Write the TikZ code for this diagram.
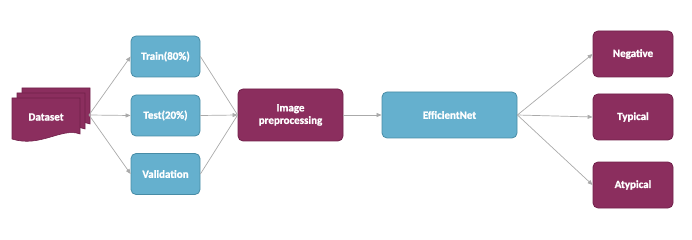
\documentclass[tikz,border=0pt]{standalone}
\usepackage{fontspec}
\setmainfont{Carlito}[FakeBold=1.3]
\usetikzlibrary{arrows.meta}
\definecolor{plum}{RGB}{139,46,94}
\definecolor{plumline}{RGB}{112,32,74}
\definecolor{sky}{RGB}{101,176,206}
\definecolor{skyline}{RGB}{72,140,166}
\definecolor{wire}{RGB}{170,170,170}
\tikzset{
  box/.style={rounded corners=5pt, line width=0.8pt, text=white,
    font=\fontsize{11}{12.5}\selectfont\bfseries, align=center, inner sep=0pt},
  bluebox/.style={box, fill=sky, draw=skyline},
  plumbox/.style={box, fill=plum, draw=plumline},
  page/.style={fill=plum, draw=plumline, line width=0.6pt},
  link/.style={draw=wire, line width=0.7pt, -{Triangle[length=5pt,width=4pt]}},
  plain/.style={draw=wire, line width=0.7pt}
}
\begin{document}
\begin{tikzpicture}[x=1pt,y=-1pt]
\useasboundingbox (0,0) rectangle (692,240);

% stacked document pages
\foreach \dx/\dy in {10/-10,5/-5,0/0}{
  \path[page] (12+\dx,98+\dy) -- (80+\dx,98+\dy) -- (80+\dx,134+\dy)
    .. controls (62+\dx,127+\dy) and (40+\dx,148+\dy) .. (12+\dx,139+\dy) -- cycle;
}
\node[box, minimum width=68pt, minimum height=36pt] (ds) at (46,117) {Dataset};
\coordinate (dsout) at (89,115);

% splits
\node[bluebox, minimum width=69pt, minimum height=41pt] (train) at (165.5,56.5) {Train(80\%)};
\node[bluebox, minimum width=69pt, minimum height=41pt] (test) at (165.5,115.5) {Test(20\%)};
\node[bluebox, minimum width=69pt, minimum height=41pt] (val) at (165.5,174) {Validation};

% pipeline
\node[plumbox, minimum width=105pt, minimum height=52pt] (prep) at (290.5,115) {Image\\preprocessing};
\node[bluebox, minimum width=135pt, minimum height=46pt] (net) at (449.5,115) {EfficientNet};

% classes
\node[plumbox, minimum width=80pt, minimum height=46pt] (neg) at (633,54) {Negative};
\node[plumbox, minimum width=80pt, minimum height=46pt] (typ) at (633,117) {Typical};
\node[plumbox, minimum width=80pt, minimum height=46pt] (aty) at (633,185) {Atypical};

% connectors
\draw[link] (dsout) -- (train.west);
\draw[link] (dsout) -- (test.west);
\draw[link] (dsout) -- (val.west);
\draw[plain] (train.east) -- (prep.west);
\draw[plain] (val.east) -- (prep.west);
\draw[link] (test.east) -- (prep.west);
\draw[link] (prep.east) -- (net.west);
\draw[link] (net.east) -- (neg.west);
\draw[link] (net.east) -- (typ.west);
\draw[link] (net.east) -- (aty.west);
\end{tikzpicture}
\end{document}
